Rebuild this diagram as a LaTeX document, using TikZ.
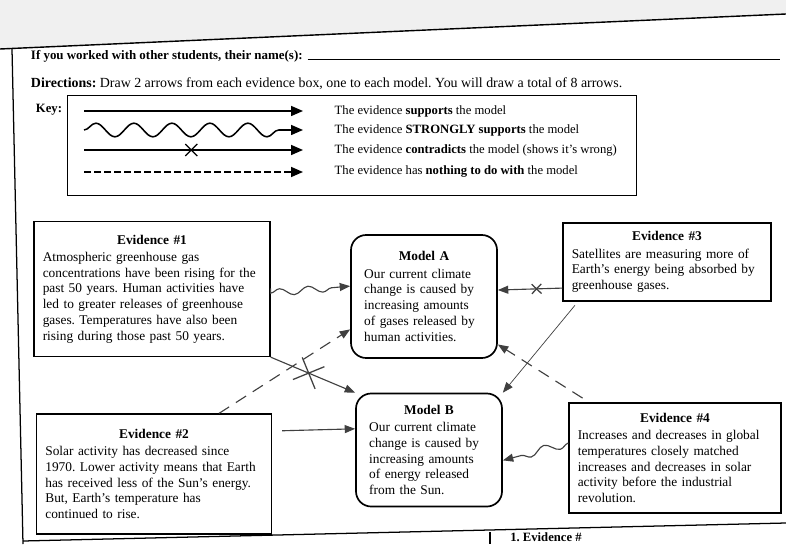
\documentclass[tikz,border=0pt]{standalone}
\usepackage{fontspec}
\setmainfont{Liberation Serif}
\usetikzlibrary{positioning, arrows.meta, decorations.pathmorphing, decorations.markings}

\newcommand{\boxtitle}[1]{\hspace*{\fill}\textbf{#1}\hspace*{\fill}\mbox{}\\[1pt]}
\frenchspacing

\begin{document}
\begin{tikzpicture}[
    x=0.025cm, y=-0.025cm,
    font=\fontsize{9.5}{11.2}\selectfont,
    evbox/.style={draw, line width=0.9pt, inner xsep=0.22cm, inner ysep=0.1cm, align=left},
    modelbox/.style={draw, line width=1.2pt, rounded corners=0.38cm, inner xsep=0.33cm,
        text width=2.99cm, align=left},
    link/.style={draw=black!75, line width=0.8pt, -{Triangle[length=0.26cm, width=0.2cm]}},
    keyline/.style={line width=1.1pt, -{Triangle[length=0.3cm, width=0.25cm]}},
    keytext/.style={font=\fontsize{9}{10}\selectfont, inner sep=1pt},
    wavy/.style 2 args={decorate, decoration={snake, amplitude=#1, segment length=#2, post length=0.3cm}},
    crossed/.style 2 args={postaction={decorate, decoration={markings,
        mark=at position #1 with {\draw[solid, line width=0.9pt, -] (-#2,-#2) -- (#2,#2) (-#2,#2) -- (#2,-#2);}}}}
  ]
  \useasboundingbox (0,0) rectangle (786,544);
  \clip (0,0) rectangle (786,544);

  % sheet edges
  \fill[white] (0,0) rectangle (786,544);
  \fill[black!6] (0,0) -- (786,0) -- (786,14) -- (0,49) -- cycle;
  \draw[line width=1pt] (0,49) -- (786,14);
  \draw[line width=0.9pt] (12,49) -- (23,544);
  \draw[line width=0.9pt] (23,541) -- (786,523);
  \draw[line width=0.9pt] (490,532) -- (490,544);
  \node[anchor=base west, font=\fontsize{9}{10}\selectfont\bfseries, inner sep=0pt] (nextq) at (510,541.5) {1. Evidence \#};

  % header
  \node[anchor=west, font=\fontsize{9.2}{11}\selectfont\bfseries] (names) at (26,56)
    {If you worked with other students, their name(s):};
  \draw[line width=0.6pt] (names.base east) -- ++(472,0);
  \node[anchor=west, font=\fontsize{9.9}{11}\selectfont] (dir) at (26,84)
    {\textbf{Directions:} Draw 2 arrows from each evidence box, one to each model. You will draw a total of 8 arrows.};

  % key
  \node[anchor=west, font=\fontsize{9}{10}\selectfont\bfseries] (keylbl) at (31,110) {Key:};
  \node[draw, line width=0.8pt, anchor=north west, minimum width=14.225cm, minimum height=2.5cm] (keybox) at (67,95) {};
  \coordinate (k1a) at (84,111);  \coordinate (k1b) at (303,111);
  \coordinate (k2a) at (84,130);  \coordinate (k2b) at (303,130);
  \coordinate (k3a) at (84,150);  \coordinate (k3b) at (303,150);
  \coordinate (k4a) at (84,172);  \coordinate (k4b) at (303,172);
  \draw[keyline] (k1a) -- (k1b);
  \draw[keyline, wavy={0.17cm}{0.95cm}] (k2a) -- (k2b);
  \draw[keyline, crossed={0.49}{0.15cm}] (k3a) -- (k3b);
  \draw[keyline, dash pattern=on 0.17cm off 0.08cm] (k4a) -- (k4b);
  \node[keytext, right=0.75cm of k1b] (k1t) {The evidence \textbf{supports} the model};
  \node[keytext, right=0.75cm of k2b] (k2t) {The evidence \textbf{STRONGLY supports} the model};
  \node[keytext, right=0.75cm of k3b] (k3t) {The evidence \textbf{contradicts} the model (shows it's wrong)};
  \node[keytext, right=0.75cm of k4b] (k4t) {The evidence has \textbf{nothing to do with} the model};

  % evidence boxes
  \node[evbox, text width=5.46cm, minimum height=3.375cm] (ev1) at (152,289)
    {\boxtitle{Evidence \#1}Atmospheric greenhouse gas\\concentrations have been rising for the\\past 50 years. Human activities have\\led to greater releases of greenhouse\\gases. Temperatures have also been\\rising during those past 50 years.};
  \node[evbox, text width=5.43cm, minimum height=3.0cm] (ev2) at (154,474)
    {\boxtitle{Evidence \#2}Solar activity has decreased since\\1970. Lower activity means that Earth\\has received less of the Sun's energy.\\But, Earth's temperature has\\continued to rise.};
  \node[evbox, text width=4.76cm, minimum height=1.95cm] (ev3) at (667,262)
    {\boxtitle{Evidence \#3}Satellites are measuring more of\\Earth's energy being absorbed by\\greenhouse gases.};
  \node[evbox, text width=4.86cm, minimum height=2.75cm] (ev4) at (675,458)
    {\boxtitle{Evidence \#4}Increases and decreases in global\\temperatures closely matched\\increases and decreases in solar\\activity before the industrial\\revolution.};

  % models
  \node[modelbox, minimum height=3.075cm] (modA) at (424,296.5)
    {\boxtitle{Model A}Our current climate\\change is caused by\\increasing amounts\\of gases released by\\human activities.};
  \node[modelbox, minimum height=2.825cm] (modB) at (429,450)
    {\boxtitle{Model B}Our current climate\\change is caused by\\increasing amounts\\of energy released\\from the Sun.};

  % answer arrows
  \draw[link, wavy={0.09cm}{0.72cm}, shorten <=0.12cm] (ev1.-2) -- (modA.172);
  \draw[link, crossed={0.45}{0.3cm}] (ev1.south east) -- (modB.north west);
  \draw[link, dash pattern=on 0.3cm off 0.2cm] (ev2.43) -- (modA.204);
  \draw[link, shorten <=0.25cm] (ev2.20) -- (modB.164);
  \draw[link, crossed={0.4}{0.12cm}] (ev3.194) -- (modA.5);
  \draw[link, line width=0.5pt, shorten <=0.12cm] (ev3.204) -- (modB.north east);
  \draw[link, dash pattern=on 0.3cm off 0.2cm, shorten <=0.2cm] (ev4.147) -- (modA.-33);
  \draw[link, wavy={0.1cm}{0.75cm}] (ev4.172) -- (modB.352);
\end{tikzpicture}
\end{document}
